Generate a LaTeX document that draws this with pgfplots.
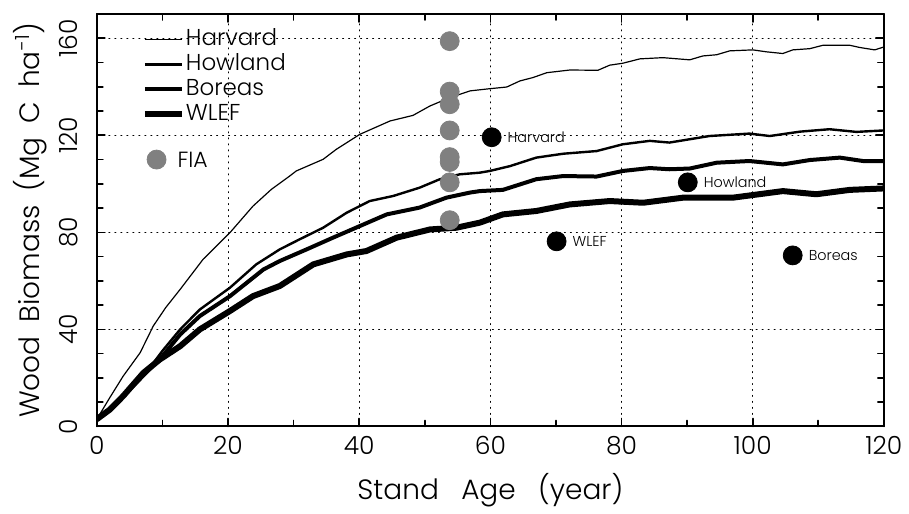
\documentclass[border=0pt]{standalone}
\usepackage{fontspec}
\setmainfont{Poppins Light}
\usepackage{pgfplots}
\pgfplotsset{compat=1.18}
\definecolor{fiagray}{RGB}{128,128,128}

\begin{document}
\begin{tikzpicture}
\begin{axis}[
  scale only axis,
  width=394pt, height=206.5pt,
  xmin=0, xmax=120, ymin=0, ymax=170,
  xtick={0,20,...,120}, minor xtick={10,30,...,110},
  ytick={0,40,...,160}, minor ytick={10,20,...,170},
  tick pos=both, xticklabel pos=lower, yticklabel pos=left,
  tick align=inside, major tick length=4pt, minor tick length=3pt,
  every tick/.style={black, line width=0.8pt},
  axis line style={line width=1pt},
  grid=major,
  major grid style={black, line width=0.5pt, dash pattern=on 0.5pt off 2.5pt},
  /pgf/number format/assume math mode=true,
  ticklabel style={font=\fontsize{12.5}{14}\selectfont},
  yticklabel style={rotate=90, anchor=south},
  yticklabel shift=6pt, xticklabel shift=1.5pt,
  xlabel={Stand\hspace{0.8em}Age\hspace{0.8em}(year)},
  ylabel={Wood\hspace{0.5em}Biomass\hspace{0.5em}(Mg\hspace{0.5em}C\hspace{0.5em}ha\textsuperscript{−1})},
  label style={font=\fontsize{14}{16}\selectfont},
  xlabel style={at={([yshift=-36.5pt]axis description cs:0.5,0)}, anchor=base},
  ylabel style={at={([xshift=-28.5pt]axis description cs:0,0.5)}, anchor=base},
  legend style={at={(axis cs:5.9,165.8)}, anchor=north west, draw=none, fill=none,
    font=\fontsize{11.5}{13}\selectfont, row sep=1.5pt,
    nodes={inner sep=0.5pt, text height=8pt, text depth=2pt}},
  legend cell align=left,
  legend image code/.code={\draw[#1] (0pt,0pt) -- (18.5pt,0pt);},
  line cap=round, line join=round,
]
\addplot[black, line width=0.6pt] coordinates {
(0,3)(2,12)(4,20.7)(6.6,30.4)(8.6,41.4)(10.5,49)(12.7,56.5)(16.2,68.9)(20.3,79.9)
(23.8,90.8)(26.6,97.7)(29.4,103.2)(30.4,105.3)(34.5,110.1)(36.5,114.2)(40.1,120.4)
(44.7,125.9)(48.2,128.2)(50.8,132.1)(53.8,135.5)(56.9,138.3)(59.9,139.2)(62.5,139.9)
(64.5,142.4)(66.5,143.8)(68.6,145.8)(72.1,146.9)(76.4,146.8)(78.2,148.9)(80.2,149.7)
(82.8,151.5)(86.3,152.0)(90.4,151.1)(92.4,152.7)(94.5,153.2)(96.5,154.8)(100,155.2)
(102.1,154.4)(104.6,153.7)(106.1,155.2)(108.7,155.7)(110.7,157.1)(114.8,157.1)
(116.3,156.2)(118.6,155.2)(120,156.4)
};
\addlegendentry{Harvard}
\addplot[black, line width=1.2pt] coordinates {
(0,3)(2,7)(4,12.5)(6,18)(8,24)(10.1,31.5)(12.7,40)(15.7,48.2)(20.3,57.2)(24.3,66.8)
(27.9,73)(30.9,77.1)(34.5,81.9)(38.1,88.1)(41.6,92.9)(45.2,95)(49.2,98.4)(52.3,101.9)
(55.3,103.9)(58.4,104.6)(59.9,105.3)(63,107.3)(67,110.8)(71.1,112.4)(76.2,113.5)
(80.2,116.3)(84.3,117.7)(87.3,117)(93.4,119.7)(99.5,120.7)(102.6,119.7)(107.2,121.5)
(111.7,122.5)(115.8,121.4)(120,122)
};
\addlegendentry{Howland}
\addplot[black, line width=2pt] coordinates {
(0,3)(2,7)(4,12.5)(6,18)(8,23.5)(10,29)(12.7,37.9)(15.7,45.5)(20.3,53.7)(25.4,64.7)
(27.9,68.2)(32,73)(36,77.8)(40.1,82.6)(44.2,87.4)(49.2,90.2)(53.3,94.3)(56.9,96.4)
(58.4,97)(61.9,97.5)(67,101.9)(71.1,103.2)(76.2,103)(80.2,105.3)(84.3,106.5)(87.3,106)
(90.4,106.3)(94.5,108.7)(99.5,109.4)(104.6,108)(108.7,109.8)(113.3,110.8)(116.8,109.4)
(120,109.4)
};
\addlegendentry{Boreas}
\addplot[black, line width=3pt] coordinates {
(0,3)(2,7)(4,12.5)(7.1,22.1)(9.6,27.6)(12.7,33.1)(15.7,40)(20.3,47.6)(23.8,53.7)
(27.9,57.9)(33,66.8)(38.1,70.9)(41.1,72.3)(45.7,77.8)(50.8,81.2)(54.8,81.9)(58.4,84)
(61.9,87.4)(67,88.8)(72.1,91.5)(78.2,92.9)(83.3,92.2)(89.4,94.3)(97,94.3)(104.6,97)
(109.7,95.7)(114.8,97.5)(120,98.1)
};
\addlegendentry{WLEF}

% FIA plots
\addplot[only marks, mark=*, mark size=4.75pt, color=fiagray, forget plot] coordinates {
(53.8,158.8)(53.8,138)(53.8,132.8)(53.8,122)(53.8,111)(53.8,109)(53.8,100.6)(53.8,85)
};
\addplot[only marks, mark=*, mark size=4.75pt, color=fiagray, forget plot,
  nodes near coords, point meta=explicit symbolic,
  every node near coord/.style={anchor=west, xshift=7pt, black,
    font=\fontsize{11}{12}\selectfont}]
  table[meta=label] {
x y label
9.1 110 FIA
};

% site measurements
\addplot[only marks, mark=*, mark size=4.75pt, black, forget plot,
  nodes near coords, point meta=explicit symbolic,
  every node near coord/.style={anchor=west, xshift=4.5pt, black,
    font=\fontsize{7.2}{8}\selectfont}]
  table[meta=label] {
x y label
60.2 119.2 Harvard
70.1 76.3 WLEF
90.1 100.6 Howland
106.1 70.5 Boreas
};
\end{axis}
% margins of the original figure
\path (current axis.north) ++(0pt,7pt);
\path (current axis.west) ++(-48.5pt,0pt);
\path (current axis.east) ++(12pt,0pt);
\end{tikzpicture}
\end{document}
